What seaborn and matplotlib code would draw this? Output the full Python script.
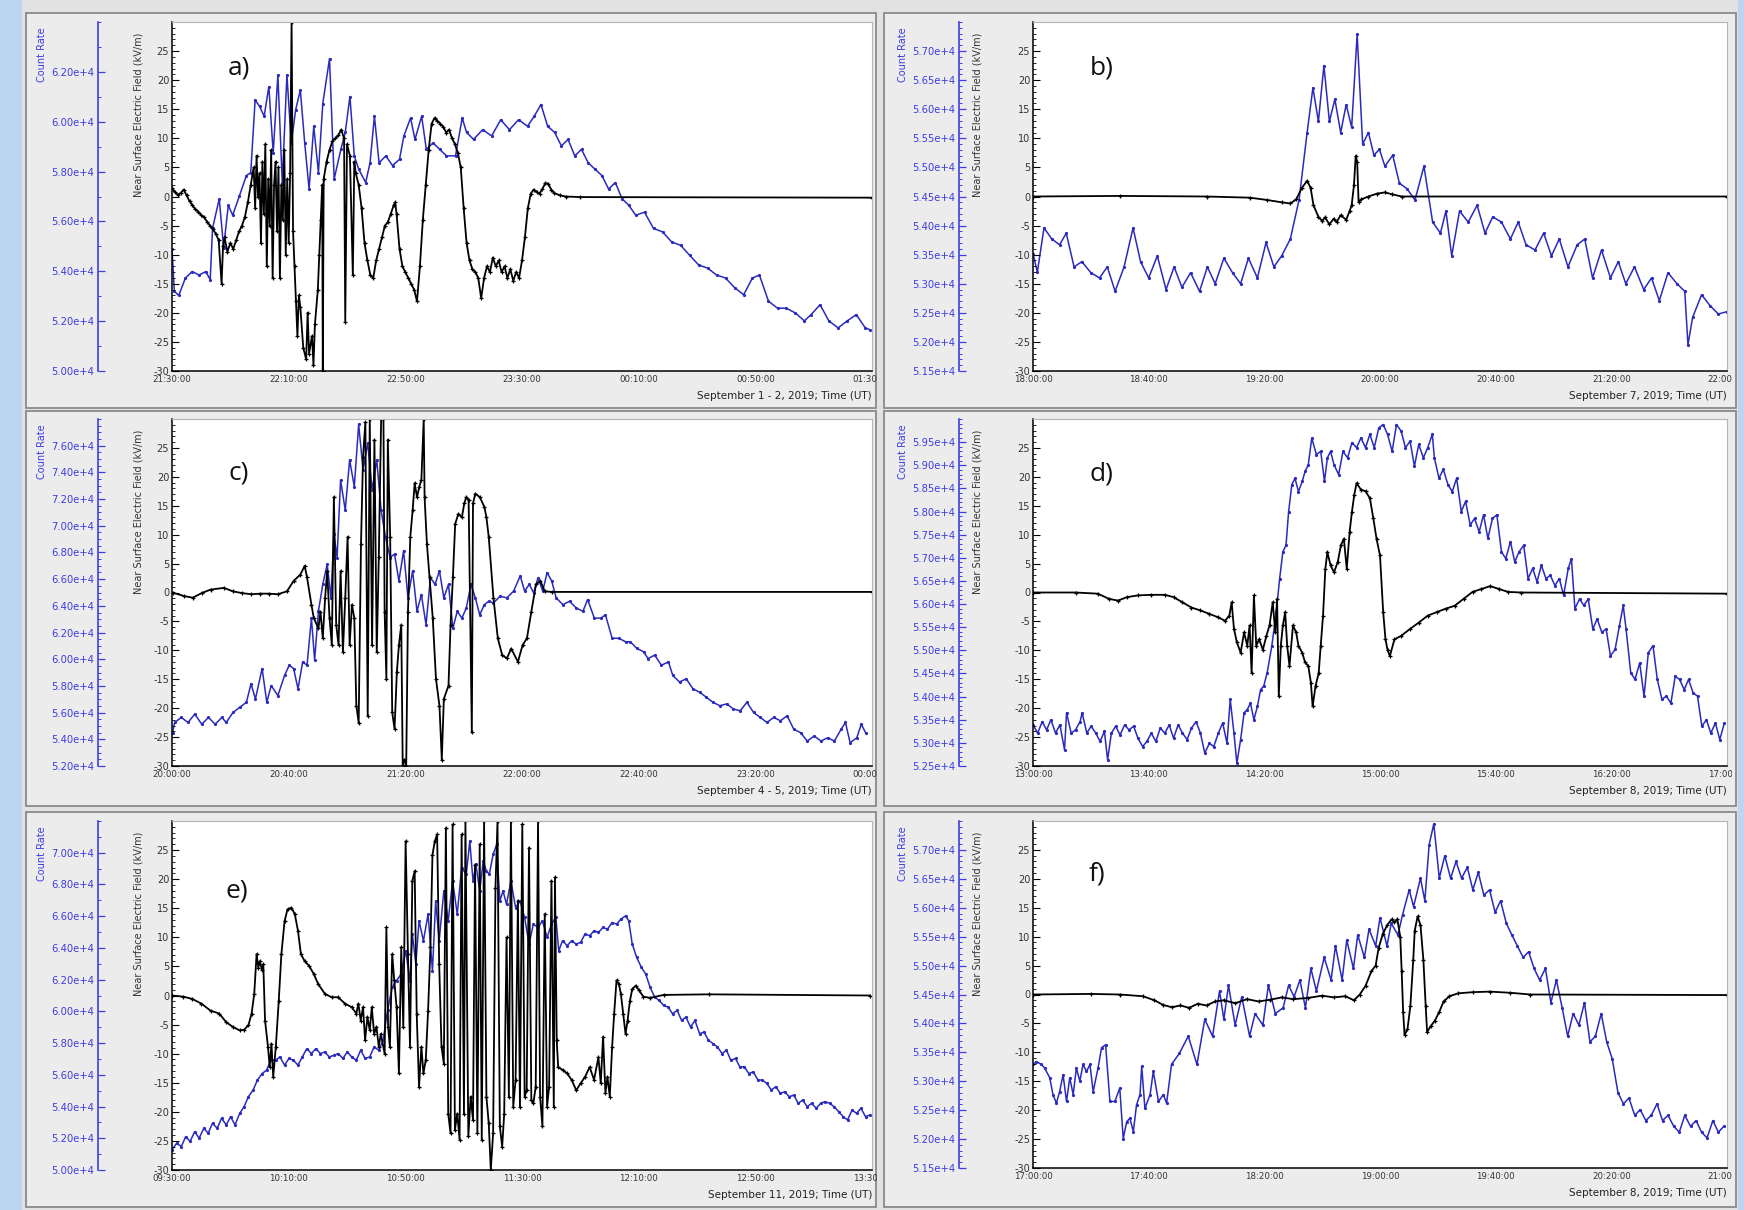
import numpy as np
import pandas as pd
import matplotlib
matplotlib.use("Agg")
import matplotlib.pyplot as plt
from matplotlib.patches import Rectangle
from matplotlib.transforms import Bbox, TransformedBbox
from matplotlib.ticker import MultipleLocator, AutoMinorLocator, FuncFormatter
import seaborn as sns

sns.set_style("white")
plt.rcParams['font.family'] = ['DejaVu Sans']
plt.rcParams['axes.unicode_minus'] = False

# ------------------------------------------------------------------ data
# time in minutes since panel start; field in kV/m; count rate in counts
a_field = [(0,1.5),(1,0.8),(2,0.3),(3,0.6),(4,1.2),(5,0.2),(6,-0.8),(7,-1.5),(8,-2.2),(9,-2.6),(10,-3.2),(11,-3.6),(12,-4.3),(13,-5),(14,-5.6),(15,-6.4),(16,-7.5),(17,-15),(17.5,-8.5),(18,-7),(19,-9.5),(20,-8),(21,-9),(22,-7.5),(23,-6),(24,-5),(25,-3.5),(26,-1),(27,2),(28,5),(28.5,-2),(29,7),(29.5,0),(30,4),(30.5,-8),(31,6),(31.5,-3),(32,9),(32.5,-12),(33,3),(33.5,-5),(34,8),(34.5,-14),(35,2),(35.5,6),(36,-6),(36.5,5),(37,-14),(37.5,2),(38,-4),(38.5,8),(39,-10),(39.5,3),(40,-8),(40.5,4),(41,30),(41.5,-6),(42,-12),(42.5,-18),(43,-24),(43.5,-17),(44,-19),(45,-26),(46,-28),(46.5,-20),(47,-27),(48,-24),(48.5,-29),(49,-22),(50,-16),(50.5,-10),(51,-4),(51.5,2),(51.7,-30),(52,3),(53,6),(54,8),(55,9.5),(56,10),(57,10.5),(58,11.5),(59,10),(59.4,-21.5),(60,9),(61,7),(62,-13.5),(62.5,6),(63,4),(64,2),(65,-2),(66,-8),(67,-11),(68,-13.5),(69,-14),(70,-11),(71,-9),(72,-7),(73,-5),(74,-4.4),(75,-3),(76,-1.5),(76.5,-1),(77,-3),(78,-9),(79,-12),(80,-13),(81,-14),(82,-15),(83,-16),(84,-18),(85,-12),(86,-4),(87,2),(88,8),(89,12.5),(90,13.5),(91,13),(92,12.5),(93,12),(94,11),(95,11.5),(96,10),(97,9),(98,7.5),(99,5),(100,-2),(101,-8),(102,-11),(103,-12.5),(104,-13),(105,-14),(106,-17.5),(107,-14),(108,-12),(109,-13),(110,-10.5),(111,-12),(112,-11),(113,-13),(114,-12),(115,-14),(116,-12.5),(117,-14.5),(118,-13),(119,-14),(120,-11),(121,-7),(122,-2),(123,0.5),(124,1.2),(125,0.8),(126,0.5),(127,1.3),(128,2.3),(129,2.2),(130,1.2),(131,0.6),(133,0.2),(135,0),(140,-0.1),(240,-0.2)]
a_count = [(0,54900),(0.8,53200),(2.3,53030),(4.6,53730),(6.9,53990),(9.3,53850),(11.6,53990),(13.1,53660),(13.9,55720),(16.2,56910),(17.7,54950),(19.3,56650),(20.8,56250),(23.1,57020),(25.5,57840),(27,57960),(28.5,60870),(30,60620),(31.6,60220),(33.2,61410),(34.7,58750),(36.3,61880),(37.8,57560),(39.4,61880),(40.9,59150),(42.4,60480),(44,61270),(45.5,59150),(47,57300),(48.6,59820),(50.2,57960),(51.7,60730),(54,62530),(55.6,57700),(57.9,58890),(59.4,59570),(61,61010),(62.5,58630),(64,58100),(66.4,57560),(67.9,58350),(69.4,60220),(71,58350),(73.3,58630),(75.6,58240),(78,58490),(79.5,59430),(81.8,60150),(83.3,59290),(85.6,60220),(87.2,58890),(89.5,59150),(91.8,58890),(94.1,58630),(97.2,58630),(99.5,60150),(101,59570),(103.4,59290),(106.5,59680),(109.6,59430),(112.7,60080),(115.7,59680),(118.8,60080),(121.9,59820),(124.2,60220),(126.5,60690),(128.8,59820),(131.2,59570),(133.5,59030),(135.8,59290),(138.1,58630),(140.4,58890),(142.7,58350),(145,58100),(147.4,57840),(149.7,57300),(152,57560),(154.3,56910),(156.6,56650),(159,56250),(162,56370),(165.1,55720),(168.2,55580),(171.3,55180),(174.4,55040),(177.5,54640),(180.6,54250),(183.6,54130),(186.7,53850),(189.8,53730),(192.9,53340),(196,53060),(199,53730),(201.4,53850),(204.5,52800),(207.6,52520),(210.6,52520),(213.7,52330),(216.8,52010),(219.1,52260),(222.2,52660),(225.2,52010),(228.4,51730),(231.5,52010),(234.6,52260),(237.7,51730),(239.2,51660)]

b_field = [(0,0),(30,0.1),(60,0),(75,-0.2),(81,-0.6),(86,-1),(89,-1.2),(91,-0.5),(93,1.5),(94.8,2.7),(96,1.5),(97,-1.5),(98.7,-3.5),(100,-4.2),(101,-3.6),(102.5,-4.8),(104,-3.8),(105,-4.4),(106.4,-3.2),(108.3,-4),(109.5,-2.5),(110.2,-1.5),(111,2),(111.6,7),(112.1,6),(112.6,-1),(113.5,-0.5),(116,0),(119,0.5),(121.7,0.7),(124,0.4),(127.5,0),(240,0)]
b_count = [(0,53520),(1.5,53200),(3.8,53960),(6.5,53770),(9.2,53670),(11.5,53870),(14.2,53290),(16.9,53380),(20,53190),(23,53100),(25.7,53290),(28.4,52870),(31.5,53290),(34.6,53960),(37.2,53380),(40,53100),(43,53480),(46,52900),(48.8,53290),(51.5,52940),(54.5,53190),(57.6,52870),(60.3,53290),(63,53000),(66,53440),(69,53190),(71.8,53000),(74.5,53440),(77.6,53100),(80.6,53710),(83.3,53290),(86,53480),(89,53770),(92,54440),(94.8,55600),(96.8,56370),(98.7,55790),(100.6,56750),(102.5,55790),(104.4,56170),(106.4,55600),(108.3,56080),(110.2,55690),(112.1,57290),(114,55400),(116,55600),(117.9,55210),(119.8,55310),(121.7,55020),(124.4,55210),(126.7,54730),(129.4,54630),(132.1,54440),(135.2,55020),(138.2,54060),(140.9,53870),(142.8,54250),(144.8,53480),(147.5,54250),(150.5,54060),(153.6,54350),(156.3,53870),(159,54150),(162,54060),(165.1,53770),(167.8,54060),(170.5,53670),(173.6,53580),(176.6,53870),(179.3,53480),(182,53770),(185,53290),(188.2,53670),(190.8,53770),(193.5,53100),(196.6,53580),(199.7,53100),(202.4,53380),(205,53000),(208,53290),(211.2,52900),(213.9,53100),(216.6,52710),(219.6,53190),(222.7,53000),(225.4,52870),(226.5,51950),(228.1,52420),(231.2,52810),(234.2,52620),(237,52480),(240,52520)]

c_field = [(0.2,0),(4,-0.6),(7.1,-0.9),(10.2,-0.1),(13.2,0.5),(17.8,0.8),(20.9,0.2),(24,-0.1),(27.1,-0.3),(30.2,-0.2),(33.2,-0.2),(36.3,-0.3),(39.4,0.2),(41.7,2),(44,3.1),(45.5,4.6),(46.3,2.6),(47.8,-2.1),(48.6,-4.4),(50.2,-6.2),(50.9,-3.3),(51.7,-7.9),(52.5,-0.9),(53.2,3.7),(54,-4.4),(54.8,-9.1),(55.5,16.5),(56.3,-5.6),(57.1,-9.1),(57.8,3.7),(58.6,-10.3),(59.4,-0.9),(60.2,9.6),(60.9,-9.1),(61.7,-2.1),(62.5,-4.4),(63.2,-19.6),(64,-22.5),(64.8,8.4),(65.5,23.5),(66.3,29.4),(67.1,-21.3),(67.8,30),(68.6,-9.1),(69.4,26.4),(70.2,-10.3),(70.9,6.1),(71.7,30),(72.5,30),(72.9,-3.3),(73.5,-14.9),(74,26.4),(74.8,9.6),(75.5,-20.7),(76.3,-23.6),(77.1,-13.7),(77.8,-9.1),(78.6,-5.6),(79.1,-29.8),(79.7,-28.9),(80.3,-30),(80.9,-3.3),(81.7,9.6),(82.5,14.2),(83.2,18.9),(84,16.5),(84.8,18.3),(85.5,19.5),(86.3,30),(86.6,16.5),(87.4,8.4),(88.3,2.6),(89.4,-4.4),(90.5,-14.9),(91.7,-19.6),(92.5,-28.9),(93.2,-18.4),(94.8,-16.1),(95.5,-5.6),(96.3,2.6),(97.1,11.9),(98.2,13.6),(99.4,13),(100.2,15.4),(100.9,16.5),(101.7,16),(102.8,-24.2),(103.2,15.4),(104,17.1),(105.5,16.5),(107.1,14.8),(107.8,13),(108.6,9.6),(110.2,-0.9),(111.7,-7.9),(113.2,-10.8),(114.8,-11.4),(116.3,-9.7),(118.6,-12),(120.2,-9.1),(121.7,-7.9),(123.2,-3.3),(124.8,1.4),(126.3,2),(127.8,0.2),(130.2,0.1),(240,0.1)]
c_count = [(0.2,54500),(0.9,55260),(3.2,55640),(5.5,55260),(7.8,55890),(10.2,55130),(12.5,55640),(14.8,55130),(17.1,55640),(18.6,55260),(20.9,56010),(23.2,56390),(25.5,56770),(27.1,58160),(28.6,57020),(30.9,59300),(32.5,56770),(34,58030),(36.3,57280),(38.6,58790),(40.2,59550),(41.7,59300),(43.2,57780),(44.8,59800),(46.3,59550),(47.8,63080),(48.9,59930),(50.2,63590),(51.7,65610),(53.2,67120),(54.5,64600),(55.5,69390),(56.6,67620),(57.8,73430),(59.4,71160),(60.9,74940),(62.5,72930),(64,77600),(65.5,74190),(67.1,76210),(68.6,72670),(70.2,74940),(71.7,71160),(73.2,69140),(74.8,67620),(76.3,67880),(77.8,65860),(79.4,68130),(80.9,64600),(82.5,66620),(84,63590),(85.5,64850),(87.1,62580),(88.6,66110),(90.2,65610),(91.7,66620),(93.2,64600),(94.8,65610),(96.3,62320),(97.8,63590),(99.4,63080),(100.9,63840),(102.5,65610),(104,64600),(105.5,63330),(107.1,64090),(108.6,64340),(110.2,64220),(112.5,64720),(114.8,64600),(117.1,65100),(119.4,66240),(120.9,65100),(122.5,65610),(124,64970),(125.5,66110),(127.1,65100),(128.6,66490),(130.2,65860),(131.7,64600),(134,64090),(136.3,64340),(138.6,63840),(140.9,63590),(142.5,64470),(144.8,63080),(147.1,63080),(148.6,63330),(150.9,61570),(153.2,61570),(155.5,61310),(157.1,61310),(159.4,60810),(161.7,60560),(163.2,60050),(165.5,60310),(167.8,59550),(170.2,59800),(171.7,58790),(174,58290),(176.3,58540),(178.6,57780),(180.9,57530),(183.2,57150),(185.5,56770),(187.8,56520),(190.2,56650),(192.5,56270),(194.8,56140),(197.1,56770),(199.4,56010),(201.7,55640),(204,55260),(206.3,55640),(208.6,55390),(210.9,55760),(213.2,54750),(215.5,54500),(217.8,53870),(220.2,54250),(222.5,53870),(224.8,54120),(227.1,53870),(229.4,54750),(230.9,55260),(232.5,53740),(234.8,54120),(236.3,55130),(237.8,54500)]

d_field = [(0,0),(14.7,0),(22.4,-0.2),(26.3,-1.1),(29.4,-1.4),(32.5,-0.8),(36.3,-0.5),(40.9,-0.4),(45.6,-0.4),(48.6,-0.8),(51.7,-1.7),(54.8,-2.6),(57.9,-3.1),(61,-3.7),(64.1,-4.3),(66.4,-4.9),(67.9,-4),(68.7,-1.7),(69.5,-6.3),(70.5,-8.6),(71.8,-10.4),(73,-6.9),(74.1,-9.2),(74.9,-5.7),(75.6,-13.9),(76.4,-0.5),(77.2,-9.2),(78.2,-8.1),(79.5,-9.9),(80.7,-7.5),(81.8,-5.7),(82.9,-1.7),(83.8,-6.9),(84.4,-1.1),(85,-17.9),(85.7,-9.2),(86.4,-5.7),(87.2,-3.4),(87.9,-9.2),(88.7,-12.7),(89.9,-5.7),(91,-6.9),(91.8,-9.2),(93.1,-10.4),(94.1,-12.1),(95.2,-12.7),(96.1,-15.6),(96.7,-19.7),(97.7,-16.2),(98.8,-13.9),(99.5,-9.2),(100.3,-4),(101.1,4.1),(101.8,7),(102.9,4.7),(104.1,3.5),(105.4,5.3),(106.5,8.2),(107.5,9.3),(108.5,4.1),(109.5,10.5),(110.3,14),(111.1,16.9),(111.9,18.9),(113.4,17.8),(115,17.5),(116.5,16.3),(117.7,12.8),(118.8,9.3),(120,6.4),(121.1,-3.4),(121.9,-8.1),(122.6,-9.9),(123.4,-11),(125,-8.1),(127.3,-7.5),(130.4,-6.3),(133.4,-5.2),(136.5,-4),(139.6,-3.4),(142.7,-2.8),(145.8,-2.3),(148.9,-1.1),(152,0.1),(155,0.6),(158.1,1.1),(161.2,0.6),(164.3,0.1),(168.9,0),(240,-0.2)]
d_count = [(0,53390),(1.6,53210),(3.2,53460),(4.7,53280),(6.2,53500),(7.8,53210),(9.3,53390),(10.9,52850),(11.6,53650),(13.2,53210),(14.7,53280),(16.3,53460),(17,53650),(18.6,53210),(20.1,53360),(21.7,53210),(23.2,53030),(24.7,53250),(25.8,52630),(27.1,53210),(28.6,53360),(30.1,53170),(31.7,53390),(33.2,53280),(34.8,53360),(36.3,53100),(37.9,52920),(39.4,53030),(40.9,53210),(42.5,53030),(44,53320),(45.6,53210),(47.1,53390),(48.6,53100),(50.2,53390),(51.7,53210),(53.3,53070),(54.8,53320),(56.4,53460),(57.9,53210),(59.4,52780),(61,52990),(62.5,52920),(64.1,53210),(65.6,53430),(67.1,52990),(68.2,53940),(69.5,53210),(70.5,52560),(71.8,53070),(73,53650),(74.1,53720),(75.2,53860),(76.4,53500),(77.6,53790),(78.7,54150),(79.8,54230),(81,54520),(82.6,55100),(84.1,55820),(85.3,56550),(86.4,57130),(87.5,57270),(88.4,58000),(89.5,58580),(90.6,58720),(91.8,58430),(93.1,58650),(94.1,58870),(95.2,59010),(96.4,59590),(98,59230),(99.5,59300),(100.8,58650),(101.8,59160),(102.9,59300),(104.1,59010),(105.7,58800),(107.2,59300),(108.8,59160),(110.3,59490),(111.9,59380),(113.4,59590),(115,59380),(116.5,59670),(118,59380),(119.6,59810),(121.1,59880),(122.6,59670),(124.2,59300),(125.7,59880),(127.3,59740),(128.8,59380),(130.4,59520),(131.9,58980),(133.4,59450),(135,59160),(136.5,59380),(138.1,59670),(138.8,59160),(140.4,58720),(141.9,58910),(143.5,58580),(145,58430),(146.5,58720),(148.1,58000),(149.6,58220),(151.2,57710),(152.7,57850),(154.3,57560),(155.8,57930),(157.3,57420),(158.9,57850),(160.4,57930),(162,57130),(163.5,56980),(165.1,57350),(166.6,56910),(168.1,57130),(169.7,57270),(171.2,56550),(172.8,56770),(174.3,56480),(175.8,56840),(177.4,56550),(178.9,56620),(180.5,56400),(182,56550),(183.5,56190),(185.1,56770),(186.2,56980),(187.4,55900),(189,56110),(190.5,55970),(192,56110),(193.6,55460),(195.1,55680),(196.7,55390),(198.2,55460),(199.7,54880),(201.3,55020),(202.8,55530),(204.1,55970),(205.1,55460),(206.7,54520),(208.2,54370),(209.8,54730),(211.3,54010),(212.8,54950),(214.4,55100),(215.9,54370),(217.5,53940),(219,54010),(220.6,53860),(222.1,54440),(223.6,54370),(225.2,54150),(226.7,54370),(228.3,54080),(229.8,54010),(231.3,53360),(232.9,53500),(234.4,53210),(236,53430),(237.5,53070),(239.1,53430)]

e_field = [(0,0),(3.9,-0.2),(7,-0.6),(10.1,-1.4),(13.2,-2.6),(16.2,-3.1),(18.6,-4.6),(20.9,-5.4),(23.2,-6),(24.7,-5.9),(26.2,-5.1),(27.3,-3.1),(28.2,0.3),(29,7.1),(29.6,4.8),(30.1,5.9),(30.9,4.3),(31.3,5.4),(31.9,-4.3),(32.9,-8.8),(33.5,-12.3),(34.1,-8.3),(34.7,-14),(35.6,-8.8),(36.6,-0.9),(37.5,7.1),(38.6,12.8),(39.6,14.8),(40.9,15.1),(42.1,14),(43.2,11.1),(44.2,7.1),(45.5,5.9),(47,5.1),(48.6,3.7),(50.1,2),(52.4,0.3),(54.7,-0.3),(57,-0.3),(59.3,-1.4),(61.6,-2),(63.2,-3.1),(63.9,-1.4),(64.7,-4.3),(65.5,-2),(66.2,-7.7),(67,-3.7),(67.8,-6),(68.5,-2),(69.3,-6.6),(70.1,-5.4),(70.9,-8.8),(71.6,-6.6),(72.9,-10),(73.5,11.7),(74.1,-5.4),(74.7,-8.8),(75.5,7.1),(76.2,2.6),(77,-2),(77.8,-13.4),(78.6,8.3),(79.3,-5.4),(80.1,26.5),(80.9,7.1),(81.6,-8.8),(82.4,19.7),(83.2,21.4),(83.9,-3.1),(84.7,-15.7),(85.5,-8.8),(86.2,-13.4),(87,-11.1),(87.8,-2.6),(88.6,8.3),(89.3,24.2),(90.1,26.5),(90.9,27.7),(91.6,5.4),(92.4,-8.8),(93.2,-11.7),(93.9,28.8),(94.7,-20.3),(95.5,-23.7),(96.2,29.4),(97,-23.1),(97.8,-20.3),(98.6,-24.8),(99.3,27.7),(100.1,-20.3),(100.6,30),(101.6,-24.2),(102.4,-17.4),(103.2,-21.4),(103.9,22.5),(104.7,-23.7),(105.5,26),(106.2,-24.8),(107,30),(107.8,-17.4),(108.6,-22),(109.3,-30),(110.1,-23.7),(110.9,18.5),(111.6,30),(112.4,-22.5),(113.2,-26),(113.9,-20.3),(114.7,10),(115.5,-17.4),(116.2,30),(117,-19.1),(117.8,-14.5),(118.6,16.3),(119.3,-19.1),(120.1,29.4),(120.9,-17.4),(121.6,-16.3),(122.4,25.4),(123.2,-18),(123.9,-18.5),(124.7,-15.7),(125.5,30),(126.2,-17.4),(127,-22.5),(127.8,14),(128.6,-19.1),(129.3,-15.7),(130.1,19.7),(130.9,-19.1),(131.3,20.3),(131.9,-7.7),(132.4,-12.3),(133.9,-12.8),(135.5,-13.4),(137,-14.5),(138.6,-16.3),(140.1,-15.1),(141.6,-14),(143.2,-12.3),(144.7,-14.5),(146.2,-10.6),(147,-15.1),(147.8,-7.1),(148.6,-16.8),(149.3,-14),(150.1,-17.4),(150.9,-8.8),(151.6,-3.1),(152.4,2.6),(153.2,2),(153.9,0.3),(154.7,-3.1),(155.5,-6.6),(156.2,-4.3),(157,-0.9),(157.8,1.1),(159,1.7),(160.1,0.9),(161.6,-0.2),(163.9,-0.4),(168.6,0.1),(184,0.2),(239.3,0)]
e_count = [(0,51270),(1.6,51690),(3.2,51480),(4.7,52110),(6.2,51800),(7.8,52420),(9.3,52000),(10.9,52630),(12.4,52320),(13.9,52950),(15.5,52630),(17,53260),(18.6,52840),(20.1,53360),(21.6,52840),(23.2,53570),(24.7,53990),(26.2,54620),(27.8,55040),(29.3,55670),(30.9,56080),(32.4,56290),(33.9,56920),(35.5,56920),(37,57130),(38.6,56610),(40.1,57030),(41.6,56920),(43.2,56610),(44.7,57130),(46.2,57650),(47.8,57340),(49.3,57650),(50.9,57340),(52.4,57440),(53.9,57130),(55.5,57230),(57,57340),(58.6,57030),(60.1,57440),(61.6,57130),(63.2,56920),(64.7,57550),(66.2,57030),(67.8,57130),(69.3,57760),(70.9,57550),(72.4,58180),(73.9,60060),(75.5,61520),(77,61940),(78.6,62360),(80.1,63820),(81.6,61940),(82.4,64870),(83.6,62990),(84.7,65710),(86.2,64450),(87.8,66130),(89.3,62570),(90.4,66960),(91.6,64450),(93.2,67590),(94.7,65710),(96.2,68220),(97.8,66130),(99.3,69050),(100.9,68640),(102.1,70730),(103.2,68220),(104.2,69260),(105.5,67590),(106.7,69470),(107.8,68850),(108.8,68640),(110.1,69890),(111.3,70520),(112.4,66960),(113.5,67590),(114.7,66750),(116.2,68220),(117.8,66540),(119.3,66960),(120.9,65920),(122.4,64240),(123.9,65500),(125.5,65290),(127,65710),(128.6,64660),(130.1,65500),(131.6,65920),(132.6,63820),(133.9,64450),(135.5,64140),(137,64450),(138.6,64240),(140.1,64350),(141.6,64870),(143.2,64770),(144.7,65080),(146.2,64980),(147.8,65290),(149.3,65180),(150.9,65600),(152.4,65500),(153.9,65810),(155.5,66020),(156.6,65710),(157.8,64240),(159.3,63410),(160.9,62780),(162.4,62360),(163.9,61520),(165.5,60900),(167,60690),(168.6,60370),(170.1,60270),(171.6,59850),(173.2,60060),(174.7,59430),(176.2,59640),(177.8,59010),(179.3,59430),(180.9,58590),(182.4,58700),(183.9,58180),(185.5,57970),(187,57760),(188.6,57340),(190.1,57550),(191.6,56920),(193.2,57030),(194.7,56500),(196.2,56500),(197.8,56080),(199.3,56190),(200.9,55670),(202.4,55670),(203.9,55460),(205.5,55040),(207,55250),(208.6,54830),(210.1,54930),(211.6,54620),(213.2,54720),(214.7,54200),(216.2,54410),(217.8,53990),(219.3,54200),(220.9,53890),(222.4,54200),(223.9,54310),(225.5,54200),(227,53990),(228.6,53680),(230.1,53360),(231.6,53160),(233.2,53780),(234.7,53570),(236.2,53890),(237.8,53360),(239.3,53470)]

f_field = [(0,0),(20,0.1),(30,0),(38,-0.3),(42,-1),(45,-1.8),(48,-2.2),(51,-1.9),(54,-2.3),(57,-1.6),(60,-1.9),(63,-1.2),(66,-1),(70,-1.5),(74,-0.8),(78,-1.2),(82,-0.9),(86,-0.5),(90,-0.8),(95,-0.6),(100,-0.2),(104,-0.5),(108,-0.3),(111,-1),(113,0),(115,1.5),(117,4),(118.5,5),(119.5,8),(121,10.5),(122.5,12),(124,13),(125,12.5),(126,13),(127,10),(127.5,4),(128,-3),(128.5,-7),(129.5,-6),(130.5,-2),(131.5,6),(132,11),(133,13.5),(134,12),(135,6),(135.8,-2),(136.3,-6.5),(137.5,-5.5),(139,-4.5),(140.5,-3),(142,-1.2),(144,-0.3),(147,0.2),(152,0.4),(158,0.5),(165,0.3),(172,0),(240,-0.1)]
f_count = [(0,53290),(1.2,53340),(2.9,53290),(4,53230),(5.8,53060),(6.9,52770),(8.1,52620),(9.2,52820),(10.4,53110),(11.6,52650),(12.7,53060),(13.9,52770),(15,53230),(16.2,53000),(17.3,53290),(18.5,53170),(19.7,53290),(20.8,52820),(22.5,53230),(23.7,53580),(25.1,53630),(26.6,52650),(28.3,52650),(30,52880),(31.2,52010),(32.4,52300),(33.5,52360),(34.7,52130),(35.8,52590),(37,52770),(37.6,53260),(38.7,52530),(40.5,52770),(41.6,53170),(43.4,52650),(45.1,52770),(46.2,52620),(47.9,53290),(50.6,53480),(53.7,53780),(56.7,53290),(59.4,54070),(62.1,53780),(64.5,54560),(66,54070),(67.6,54660),(69.9,53970),(72.2,54460),(74.9,53780),(76.8,54170),(79.5,53970),(81.4,54660),(83.8,54170),(86.5,54270),(88.4,54660),(90.3,54460),(92.3,54750),(94.2,54270),(96.1,54950),(98,54560),(100.7,55140),(103.1,54750),(104.6,55340),(106.9,54750),(108.5,55440),(110.8,54950),(112.3,55530),(114.6,55140),(116.2,55630),(118.5,55340),(120,55830),(122.4,55340),(123.9,55730),(126.2,55530),(127.8,55880),(130.1,56310),(131.6,56020),(134,56510),(135.5,56120),(137,57090),(138.6,57450),(140.5,56510),(142.4,56900),(144.4,56510),(146.3,56800),(148.2,56510),(150.2,56700),(152.1,56310),(154,56610),(155.9,56220),(157.9,56310),(159.8,55920),(161.7,56120),(163.7,55730),(165.6,55530),(167.5,55340),(169.5,55140),(171.4,55240),(173.3,54950),(175.2,54750),(177.2,54950),(179.1,54360),(181,54750),(183,54270),(184.9,53780),(186.8,54170),(188.8,53970),(190.7,54360),(192.6,53680),(194.5,53780),(196.5,54170),(198.4,53680),(200.3,53390),(202.3,52800),(204.2,52610),(206.1,52710),(208.1,52410),(210,52510),(211.9,52320),(213.8,52410),(215.8,52610),(217.7,52320),(219.6,52410),(221.6,52220),(223.5,52120),(225.4,52410),(227.4,52220),(229.3,52320),(231.2,52120),(233.1,52020),(235.1,52320),(237,52120),(238.9,52220)]

panel_letters = ["a)", "b)", "c)", "d)", "e)", "f)"]
x_tick_labels = {
    "a": ["21:30:00", "22:10:00", "22:50:00", "23:30:00", "00:10:00", "00:50:00", "01:30:00"],
    "b": ["18:00:00", "18:40:00", "19:20:00", "20:00:00", "20:40:00", "21:20:00", "22:00:00"],
    "c": ["20:00:00", "20:40:00", "21:20:00", "22:00:00", "22:40:00", "23:20:00", "00:00:00"],
    "d": ["13:00:00", "13:40:00", "14:20:00", "15:00:00", "15:40:00", "16:20:00", "17:00:00"],
    "e": ["09:30:00", "10:10:00", "10:50:00", "11:30:00", "12:10:00", "12:50:00", "13:30:00"],
    "f": ["17:00:00", "17:40:00", "18:20:00", "19:00:00", "19:40:00", "20:20:00", "21:00:00"],
}
x_titles = {
    "a": "September 1 - 2, 2019; Time (UT)",
    "b": "September 7, 2019; Time (UT)",
    "c": "September 4 - 5, 2019; Time (UT)",
    "d": "September 8, 2019; Time (UT)",
    "e": "September 11, 2019; Time (UT)",
    "f": "September 8, 2019; Time (UT)",
}
# count-rate axis: (min, max, major step, minor subdivisions)
count_axis = {
    "a": (50000, 64000, 2000, 2),
    "b": (51500, 57500, 500, 5),
    "c": (52000, 78000, 2000, 4),
    "d": (52500, 60000, 500, 5),
    "e": (50000, 72000, 2000, 2),
    "f": (51500, 57500, 500, 5),
}
field_ticks = [-30, -25, -20, -15, -10, -5, 0, 5, 10, 15, 20, 25]
time_ticks = [0, 40, 80, 120, 160, 200, 240]

# ------------------------------------------------------------------ layout
W, H = 1744, 1210
fig = plt.figure(figsize=(W / 100, H / 100), dpi=100)
fig.patch.set_facecolor("#bcd6f2")
fig.add_artist(Rectangle((22 / W, 0), (1738 - 22) / W, 1, transform=fig.transFigure,
                         facecolor="#e2e2e2", edgecolor="none", zorder=-10))

BLUE_LINE = "#2a2abd"
BLUE_TXT = "#3d3de0"

frames = {
    "a": (26, 13, 876, 408), "b": (884, 13, 1736, 408),
    "c": (26, 411, 876, 806), "d": (884, 411, 1736, 806),
    "e": (26, 812, 876, 1207), "f": (884, 812, 1736, 1207),
}
plots = {
    "a": (172, 22, 872, 371), "b": (1033, 22, 1727, 371),
    "c": (172, 419, 872, 766), "d": (1033, 419, 1727, 766),
    "e": (172, 821, 872, 1170), "f": (1033, 821, 1727, 1168),
}
letter_pos = {"a": (0.08, 0.868), "b": (0.082, 0.868), "c": (0.08, 0.845),
              "d": (0.082, 0.842), "e": (0.077, 0.80), "f": (0.08, 0.848)}
field_label_off = {"a": -34, "c": -34, "e": -34, "b": -55, "d": -55, "f": -55}

series = {"a": (a_field, a_count), "b": (b_field, b_count), "c": (c_field, c_count),
          "d": (d_field, d_count), "e": (e_field, e_count), "f": (f_field, f_count)}

for key, letter in zip("abcdef", panel_letters):
    fx0, fy0, fx1, fy1 = frames[key]
    fig.add_artist(Rectangle((fx0 / W, 1 - fy1 / H), (fx1 - fx0) / W, (fy1 - fy0) / H,
                             transform=fig.transFigure, facecolor="#ececec",
                             edgecolor="#8a8a8a", linewidth=1.3, zorder=-5))
    px0, py0, px1, py1 = plots[key]
    pw, ph = px1 - px0, py1 - py0
    ax = fig.add_axes([px0 / W, 1 - py1 / H, pw / W, ph / H])
    ax2 = ax.twinx()
    ax.set_zorder(3)
    ax2.set_zorder(2)
    ax.patch.set_visible(False)
    ax2.patch.set_visible(True)
    ax2.patch.set_facecolor("white")

    field, count = series[key]
    ft, fv = zip(*field)
    ct, cv = zip(*count)
    df_f = pd.DataFrame({"t": ft, "v": fv})
    df_c = pd.DataFrame({"t": ct, "v": cv})
    sns.lineplot(data=df_c, x="t", y="v", ax=ax2, color=BLUE_LINE, lw=1.1,
                 marker="o", markersize=2.3, markeredgewidth=0,
                 markerfacecolor=BLUE_LINE, markeredgecolor=BLUE_LINE,
                 estimator=None, sort=False)
    sns.lineplot(data=df_f, x="t", y="v", ax=ax, color="black", lw=1.3,
                 marker="+", markersize=3.5, markeredgewidth=0.9,
                 markeredgecolor="black", markerfacecolor="black",
                 estimator=None, sort=False,
                 solid_joinstyle="round", solid_capstyle="round")

    lo, hi, step, nminor = count_axis[key]
    ax.set_xlim(0, 240)
    ax.set_ylim(-30, 30)
    ax2.set_ylim(lo, hi)
    for a_ in (ax, ax2):
        a_.set_xlabel("")
        a_.set_ylabel("")

    # field axis (inner, black)
    ax.set_yticks(field_ticks)
    ax.set_yticklabels([str(v) for v in field_ticks])
    ax.yaxis.set_minor_locator(MultipleLocator(1))
    ax.set_xticks(time_ticks)
    ax.set_xticklabels(x_tick_labels[key])
    ax.xaxis.set_minor_locator(MultipleLocator(5))
    ax.tick_params(axis="both", which="both", direction="in", top=False, right=False,
                   colors="black")
    ax.tick_params(axis="y", which="major", length=5, width=0.8, labelsize=7, pad=2,
                   labelcolor="#333333")
    ax.tick_params(axis="y", which="minor", length=2.5, width=0.6)
    ax.tick_params(axis="x", which="major", length=5, width=0.8, labelsize=6.2, pad=3,
                   labelcolor="#333333")
    ax.tick_params(axis="x", which="minor", length=2.5, width=0.6)
    for s in ("left", "bottom"):
        ax.spines[s].set_color("black")
        ax.spines[s].set_linewidth(1.1)
    for s in ("top", "right"):
        ax.spines[s].set_color("#b5b5b5")
        ax.spines[s].set_linewidth(0.8)

    # count-rate axis (outer, blue)
    for s in ("right", "top", "bottom"):
        ax2.spines[s].set_visible(False)
    ax2.spines["left"].set_visible(True)
    ax2.spines["left"].set_position(("axes", -74 / pw))
    ax2.spines["left"].set_color(BLUE_TXT)
    ax2.spines["left"].set_linewidth(1.2)
    ax2.yaxis.set_ticks_position("left")
    ax2.yaxis.set_label_position("left")
    ax2.set_yticks(list(range(lo, hi, step)))
    ax2.yaxis.set_major_formatter(FuncFormatter(lambda v, p: f"{v / 1e4:.2f}e+4"))
    ax2.yaxis.set_minor_locator(AutoMinorLocator(nminor))
    ax2.tick_params(axis="y", which="both", direction="in", colors=BLUE_TXT,
                    labelsize=7.2, pad=3)
    ax2.tick_params(axis="y", which="major", length=5, width=0.9)
    ax2.tick_params(axis="y", which="minor", length=2.5, width=0.7)

    # labels
    ax.text(-130 / pw, 1 - 5 / ph, "Count Rate", rotation=90, ha="center", va="top",
            color=BLUE_TXT, fontsize=7, transform=ax.transAxes, clip_on=False)
    ax.text(field_label_off[key] / pw, 1 - 11 / ph, "Near Surface Electric Field (kV/m)",
            rotation=90, ha="center", va="top", color="#333333", fontsize=7,
            transform=ax.transAxes, clip_on=False)
    ax.text(1.0, -25 / ph, x_titles[key], ha="right", va="center", fontsize=7.5,
            color="#222222", transform=ax.transAxes, clip_on=False)
    lx, ly = letter_pos[key]
    ax.text(lx, ly, letter, ha="left", va="center", fontsize=19, color="#111111",
            family=["Open Sans", "DejaVu Sans"], transform=ax.transAxes)

    # tick labels cut at the panel edge, as in the original screenshot
    clipbb = TransformedBbox(Bbox.from_extents(fx0 / W, 1 - fy1 / H, (px1 + 5) / W, 1 - fy0 / H),
                             fig.transFigure)
    for lab in ax.get_xticklabels():
        lab.set_clip_box(clipbb)
        lab.set_clip_on(True)

fig.savefig("out.png", dpi=100, facecolor=fig.get_facecolor())
